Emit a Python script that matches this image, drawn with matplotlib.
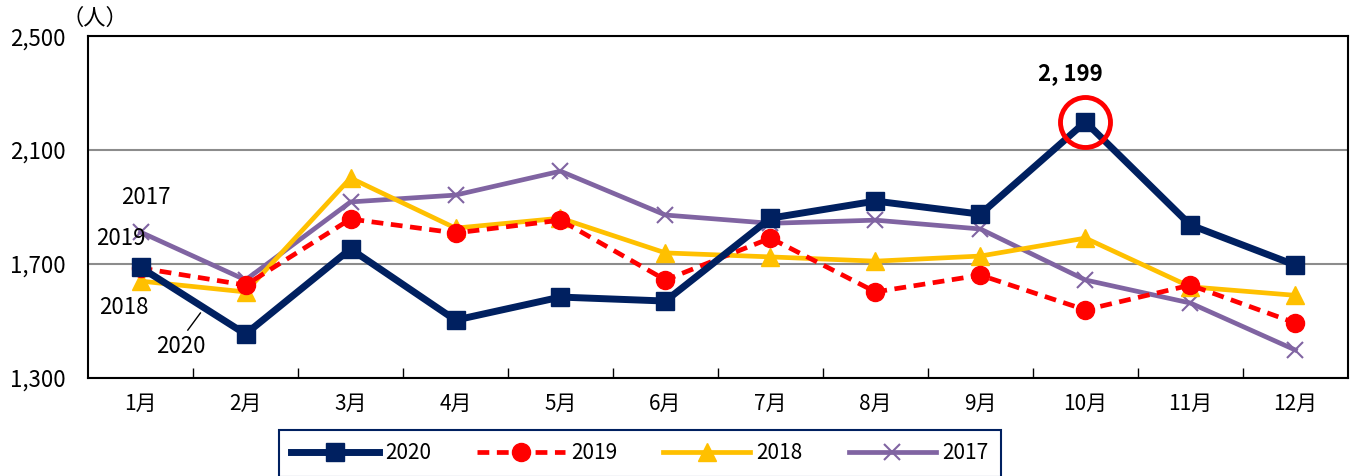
import matplotlib
matplotlib.use("Agg")
import matplotlib.pyplot as plt
from matplotlib.ticker import FuncFormatter

plt.rcParams['font.family'] = ['Noto Sans CJK JP', 'DejaVu Sans']

months = ["1月", "2月", "3月", "4月", "5月", "6月", "7月", "8月", "9月", "10月", "11月", "12月"]
v2020 = [1688, 1454, 1753, 1503, 1584, 1570, 1861, 1921, 1875, 2199, 1837, 1696]
v2019 = [1686, 1626, 1858, 1809, 1854, 1644, 1791, 1602, 1661, 1539, 1626, 1493]
v2018 = [1640, 1602, 2002, 1826, 1861, 1739, 1725, 1710, 1728, 1791, 1620, 1590]
v2017 = [1812, 1644, 1918, 1942, 2026, 1872, 1843, 1854, 1823, 1644, 1563, 1398]

navy = "#002060"
red = "#ff0000"
yellow = "#ffc000"
purple = "#8064a2"

fig = plt.figure(figsize=(13.59, 4.76), dpi=100)
ax = fig.add_axes([0.0648, 0.206, 0.927, 0.718])

x = list(range(1, 13))
ax.plot(x, v2017, color=purple, lw=3.4, marker='x', ms=12, mew=1.5, label="2017", zorder=3)
ax.plot(x, v2018, color=yellow, lw=3.4, marker='^', ms=13, label="2018", zorder=4)
ax.plot(x, v2019, color=red, lw=3.4, ls=(0, (2.5, 1.6)), marker='o', ms=13, label="2019", zorder=5)
ax.plot(x, v2020, color=navy, lw=5, marker='s', ms=13.5, label="2020", zorder=6)

# highlight the peak
peak = v2020.index(max(v2020)) + 1
ax.plot(peak, max(v2020), marker='o', ms=36, mfc='none', mec=red, mew=3.5, zorder=7)
ax.text(peak - 0.14, max(v2020) + 170, "2, 199", ha='center', va='center',
        fontsize=16, fontweight='bold')

# series labels on the left
ax.text(1.05, 1932, "2017", ha='center', va='center', fontsize=16)
ax.text(0.81, 1791, "2019", ha='center', va='center', fontsize=16)
ax.text(0.84, 1549, "2018", ha='center', va='center', fontsize=16)
ax.text(1.38, 1409, "2020", ha='center', va='center', fontsize=16)
ax.plot([1.45, 1.57], [1468, 1528], color='black', lw=1)

ax.set_xlim(0.5, 12.5)
ax.set_ylim(1300, 2500)
ax.set_yticks([1300, 1700, 2100, 2500])
ax.yaxis.set_major_formatter(FuncFormatter(lambda v, p: f"{int(v):,}"))
ax.tick_params(axis='y', length=0, pad=16, labelsize=16)
ax.grid(axis='y', color='#8c8c8c', lw=1.5)
ax.set_axisbelow(True)

ax.set_xticks(x)
ax.set_xticklabels(months)
ax.tick_params(axis='x', length=0, pad=11, labelsize=15)
ax.set_xticks([i + 0.5 for i in range(1, 12)], minor=True)
ax.tick_params(axis='x', which='minor', direction='in', length=7, width=1)

for s in ax.spines.values():
    s.set_color('black')
    s.set_linewidth(1.5)

fig.text(0.045, 0.962, "（人）", ha='left', va='center', fontsize=16)

handles, labels = ax.get_legend_handles_labels()
order = [3, 2, 1, 0]
leg = fig.legend([handles[i] for i in order], [labels[i] for i in order],
                 loc='upper center', bbox_to_anchor=(0.471, 0.097), ncol=4,
                 fontsize=15, frameon=True, fancybox=False, edgecolor=navy,
                 framealpha=1, handlelength=4.2, handletextpad=0.3,
                 columnspacing=2.2, borderpad=0.6, borderaxespad=0)
leg.get_frame().set_linewidth(1.5)

fig.savefig("out.png", dpi=100)
